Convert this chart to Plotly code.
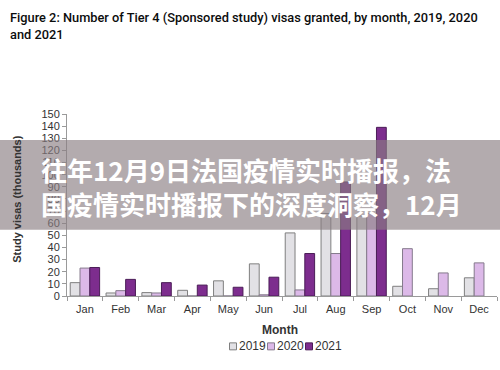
import plotly.graph_objects as go

months = ["Jan", "Feb", "Mar", "Apr", "May", "Jun", "Jul", "Aug", "Sep", "Oct", "Nov", "Dec"]
visas_2019 = [11, 2.5, 2.8, 4.7, 12.5, 26.5, 52, 68, 66, 8, 6, 15]
visas_2020 = [23, 4.4, 2.5, 0, 0, 1, 5, 35, 68, 39, 19, 27.3]
visas_2021 = [23.5, 13.7, 11, 9, 7.2, 15.5, 35, 94, 139, None, None, None]
y_ticks = list(range(0, 151, 10))
series = [("2019", visas_2019, "#e2e1e5", "#7f7f7f"),
          ("2020", visas_2020, "#dcb9e8", "#857a8c"),
          ("2021", visas_2021, "#7d2d8e", "#4b1d57")]

W, H = 500, 370
L, R, T, B = 67, 3, 114, 73.5
pw, ph = W - L - R, H - T - B

def px_x(x):
    return (x - L) / pw

def px_y(y):
    return (H - B - y) / ph

fig = go.Figure()
for name, vals, fill, edge in series:
    fig.add_trace(go.Bar(x=months, y=vals, name=name,
                         marker=dict(color=fill, line=dict(color=edge, width=1))))

fig.update_layout(
    width=W, height=H,
    margin=dict(l=L, r=R, t=T, b=B, autoexpand=False),
    paper_bgcolor="white", plot_bgcolor="white",
    barmode="group", bargap=0.18, bargroupgap=0,
    showlegend=False,
    font=dict(family="Liberation Sans", size=11, color="#333"),
)
fig.update_xaxes(showline=True, linecolor="#9a9a9a", linewidth=1, ticks="outside",
                 tickson="boundaries", ticklen=4, tickcolor="#9a9a9a", showgrid=False,
                 automargin=False, ticklabelstandoff=3,
                 tickfont=dict(family="Liberation Sans", size=11, color="#333"))
fig.update_yaxes(range=[0, 150], tickvals=y_ticks, showline=True, linecolor="#9a9a9a",
                 linewidth=1, ticks="outside", ticklen=4, tickcolor="#9a9a9a",
                 showgrid=False, zeroline=False, automargin=False,
                 tickfont=dict(family="Liberation Sans", size=11, color="#333"))

annotations = [
    dict(text="Figure 2: Number of Tier 4 (Sponsored study) visas granted, by month, 2019, 2020<br>and 2021",
         xref="paper", yref="paper", x=px_x(8), y=px_y(8), xanchor="left", yanchor="top",
         align="left", showarrow=False,
         font=dict(family="Roboto", size=12.8, color="#0b0c0c", weight=500)),
    dict(text="<b>Study visas (thousands)</b>", xref="paper", yref="paper",
         x=px_x(17), y=px_y(200), xanchor="center", yanchor="middle", textangle=-90,
         showarrow=False, font=dict(family="Liberation Sans", size=11, color="#333")),
    dict(text="<b>Month</b>", xref="paper", yref="paper", x=px_x(280), y=px_y(330.5),
         xanchor="center", yanchor="middle",
         showarrow=False, font=dict(family="Liberation Sans", size=12, color="#333")),
    dict(text="往年12月9日法国疫情实时播报，法", xref="paper", yref="paper",
         x=px_x(39), y=px_y(170), xanchor="left", yanchor="middle", showarrow=False,
         font=dict(family="Noto Sans CJK SC", size=26, color="white", weight=700)),
    dict(text="国疫情实时播报下的深度洞察，12月", xref="paper", yref="paper",
         x=px_x(39), y=px_y(204), xanchor="left", yanchor="middle", showarrow=False,
         font=dict(family="Noto Sans CJK SC", size=26, color="white", weight=700)),
]

# manual compact legend
leg_x = [233, 271, 309]
for (name, vals, fill, edge), lx in zip(series, leg_x):
    fig.add_shape(type="rect", xref="paper", yref="paper",
                  x0=px_x(lx - 3.5), x1=px_x(lx + 3.5), y0=px_y(350.5), y1=px_y(343.5),
                  fillcolor=fill, line=dict(color=edge, width=1))
    annotations.append(dict(text=name, xref="paper", yref="paper", x=px_x(lx + 4),
                            y=px_y(347), xanchor="left", yanchor="middle", showarrow=False,
                            font=dict(family="Liberation Sans", size=12, color="#333")))

fig.update_layout(annotations=annotations)
fig.add_shape(type="rect", xref="paper", yref="paper", x0=px_x(0), x1=px_x(W),
              y0=px_y(230), y1=px_y(140), fillcolor="rgba(138,126,131,0.65)",
              line=dict(width=0), layer="above")

fig.write_html("out.html", config={"displayModeBar": False},
               post_script="document.body.style.margin='0';")
